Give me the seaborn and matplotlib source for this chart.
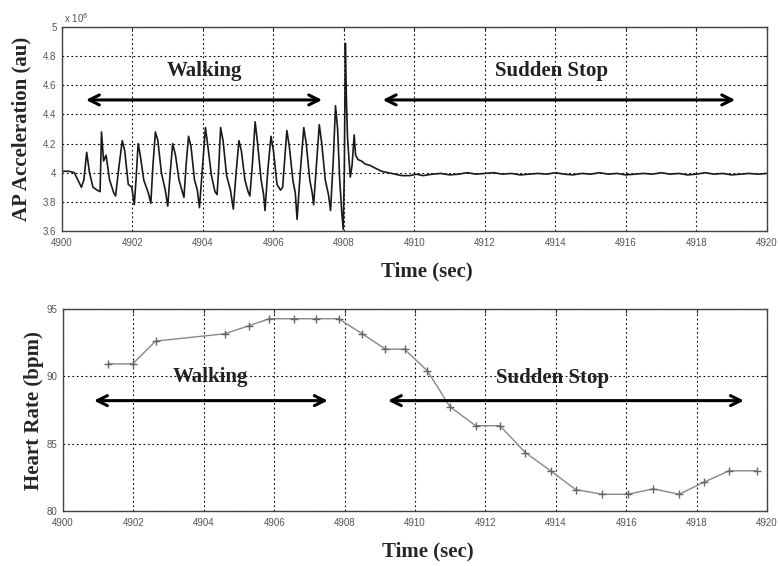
import numpy as np
import pandas as pd
import seaborn as sns
import matplotlib.pyplot as plt
from matplotlib.ticker import FormatStrFormatter

# AP acceleration (x 10^6 au)
ap_time = [
    4900.00, 4900.20, 4900.35, 4900.45, 4900.55, 4900.62, 4900.70, 4900.78, 4900.88, 4901.00,
    4901.08, 4901.12, 4901.18, 4901.25, 4901.35, 4901.47, 4901.52, 4901.62, 4901.71, 4901.78,
    4901.88, 4901.98, 4902.05, 4902.10, 4902.16, 4902.22, 4902.32, 4902.45, 4902.52, 4902.58,
    4902.65, 4902.72, 4902.82, 4902.93, 4903.00, 4903.07, 4903.14, 4903.22, 4903.32, 4903.40,
    4903.46, 4903.52, 4903.59, 4903.66, 4903.76, 4903.84, 4903.90, 4903.98, 4904.07, 4904.14,
    4904.24, 4904.34, 4904.40, 4904.45, 4904.50, 4904.57, 4904.67, 4904.78, 4904.86, 4904.94,
    4905.02, 4905.09, 4905.19, 4905.28, 4905.33, 4905.40, 4905.48, 4905.55, 4905.65, 4905.72,
    4905.76, 4905.84, 4905.93, 4906.00, 4906.10, 4906.20, 4906.26, 4906.32, 4906.38, 4906.45,
    4906.55, 4906.62, 4906.67, 4906.76, 4906.86, 4906.93, 4907.03, 4907.10, 4907.14, 4907.22,
    4907.30, 4907.37, 4907.47, 4907.56, 4907.62, 4907.70, 4907.76, 4907.82, 4907.88, 4907.94,
    4907.98, 4908.01, 4908.04, 4908.07, 4908.10, 4908.14, 4908.18, 4908.23, 4908.29, 4908.33,
    4908.40, 4908.50, 4908.60, 4908.74, 4908.90, 4909.07, 4909.25, 4909.45, 4909.65, 4909.87,
    4910.05, 4910.25, 4910.50, 4910.75, 4911.00, 4911.25, 4911.50, 4911.75, 4912.00, 4912.25,
    4912.50, 4912.75, 4913.00, 4913.25, 4913.50, 4913.75, 4914.00, 4914.25, 4914.50, 4914.75,
    4915.00, 4915.25, 4915.50, 4915.75, 4916.00, 4916.25, 4916.50, 4916.75, 4917.00, 4917.25,
    4917.50, 4917.75, 4918.00, 4918.25, 4918.50, 4918.75, 4919.00, 4919.25, 4919.50, 4919.75,
    4920.00,
]
ap_value = [
    4.01, 4.01, 4.00, 3.95, 3.90, 3.95, 4.14, 4.00, 3.90, 3.88,
    3.87, 4.28, 4.08, 4.12, 3.95, 3.86, 3.84, 4.05, 4.22, 4.15,
    3.92, 3.90, 3.78, 3.95, 4.20, 4.12, 3.95, 3.86, 3.79, 4.05,
    4.28, 4.22, 4.00, 3.88, 3.77, 4.00, 4.20, 4.12, 3.95, 3.88,
    3.83, 4.05, 4.25, 4.18, 3.95, 3.88, 3.76, 4.02, 4.31, 4.18,
    3.98, 3.87, 3.85, 4.05, 4.31, 4.22, 3.98, 3.88, 3.75, 4.00,
    4.22, 4.15, 3.95, 3.87, 3.84, 4.05, 4.35, 4.20, 3.95, 3.85,
    3.74, 4.02, 4.25, 4.15, 3.92, 3.88, 3.90, 4.10, 4.29, 4.18,
    3.95, 3.86, 3.68, 4.00, 4.31, 4.20, 3.95, 3.86, 3.78, 4.05,
    4.33, 4.20, 3.95, 3.85, 3.74, 4.10, 4.46, 4.30, 3.95, 3.72,
    3.61, 4.00, 4.89, 4.50, 4.25, 4.10, 3.97, 4.05, 4.26, 4.12,
    4.09, 4.08, 4.06, 4.05, 4.03, 4.01, 4.00, 3.99, 3.98, 3.98,
    3.99, 3.98, 3.99, 3.995, 3.985, 3.99, 4.00, 3.99, 3.995, 4.00,
    3.99, 3.995, 3.985, 3.99, 3.995, 3.99, 4.00, 3.99, 3.985, 3.995,
    3.99, 4.00, 3.99, 3.995, 3.985, 3.99, 3.995, 3.99, 4.00, 3.99,
    3.995, 3.985, 3.99, 4.00, 3.99, 3.995, 3.985, 3.99, 3.995, 3.99,
    3.995,
]

# Heart rate (bpm)
hr_time = [
    4901.28, 4901.98, 4902.63, 4904.59, 4905.28, 4905.86, 4906.55, 4907.20, 4907.83, 4908.50,
    4909.16, 4909.70, 4910.35, 4910.99, 4911.72, 4912.41, 4913.13, 4913.85, 4914.56, 4915.32,
    4916.04, 4916.77, 4917.50, 4918.21, 4918.92, 4919.70,
]
hr_value = [
    90.93, 90.93, 92.62, 93.16, 93.76, 94.28, 94.28, 94.28, 94.28, 93.16,
    92.02, 92.02, 90.41, 87.75, 86.34, 86.34, 84.35, 82.99, 81.60, 81.25,
    81.25, 81.65, 81.25, 82.15, 82.99, 82.99,
]

ap_df = pd.DataFrame({'time': ap_time, 'value': ap_value})
hr_df = pd.DataFrame({'time': hr_time, 'value': hr_value})

sns.set_style('white')
plt.rcParams['font.family'] = ['Liberation Serif', 'DejaVu Serif']

fig = plt.figure(figsize=(7.78, 5.66), dpi=100)
ax1 = fig.add_axes([0.0797, 0.592, 0.906, 0.360])
ax2 = fig.add_axes([0.0810, 0.097, 0.905, 0.357])


def style_axes(ax, yticks):
    ax.set_xlim(4900, 4920)
    ax.set_xticks(range(4900, 4921, 2))
    ax.set_yticks(yticks)
    ax.grid(True, color='black', linestyle=(0, (1.5, 2.5)), linewidth=0.8)
    ax.tick_params(direction='in', top=True, right=True, length=3,
                   labelsize=7, labelcolor='#555555')
    ax.tick_params(axis='x', pad=5)
    ax.tick_params(axis='y', pad=4)
    for lab in ax.get_xticklabels() + ax.get_yticklabels():
        lab.set_family('Liberation Sans')
    for sp in ax.spines.values():
        sp.set_color('#444444')
        sp.set_linewidth(1.0)
    ax.set_xlabel('Time (sec)', fontsize=15, fontweight='bold')
    ax.xaxis.set_label_coords(0.518, -0.15)


def double_arrow(ax, x0, x1, y):
    ax.annotate('', xy=(x1, y), xytext=(x0, y),
                arrowprops=dict(arrowstyle='<->', color='black', lw=2.2,
                                mutation_scale=18))


# top panel: AP acceleration
sns.lineplot(data=ap_df, x='time', y='value', ax=ax1, color='#1a1a1a',
             linewidth=1.2, estimator=None, sort=False)
ax1.set_ylim(3.6, 5.0)
style_axes(ax1, [3.6, 3.8, 4.0, 4.2, 4.4, 4.6, 4.8, 5.0])
ax1.yaxis.set_major_formatter(FormatStrFormatter('%g'))
ax1.set_ylabel('AP Acceleration (au)', fontsize=15, fontweight='bold', labelpad=8)
ax1.text(0.003, 1.012, r'x 10$^6$', transform=ax1.transAxes, fontsize=7,
         color='#555555', family='Liberation Sans', va='bottom')
double_arrow(ax1, 4900.6, 4907.46, 4.5)
double_arrow(ax1, 4909.02, 4919.18, 4.5)
ax1.text(4904.05, 4.7, 'Walking', ha='center', va='center', fontsize=15,
         fontweight='bold', color='#222222')
ax1.text(4913.9, 4.7, 'Sudden Stop', ha='center', va='center', fontsize=15,
         fontweight='bold', color='#222222')

# bottom panel: heart rate
sns.lineplot(data=hr_df, x='time', y='value', ax=ax2, color='#888888',
             linewidth=1.0, marker='+', markersize=6, markeredgewidth=1.0,
             markeredgecolor='#666666', estimator=None, sort=False)
ax2.set_ylim(80, 95)
style_axes(ax2, [80, 85, 90, 95])
ax2.set_ylabel('Heart Rate (bpm)', fontsize=15, fontweight='bold', labelpad=2)
double_arrow(ax2, 4900.8, 4907.6, 88.2)
double_arrow(ax2, 4909.15, 4919.42, 88.2)
ax2.text(4904.2, 89.95, 'Walking', ha='center', va='center', fontsize=15,
         fontweight='bold', color='#222222')
ax2.text(4913.9, 89.85, 'Sudden Stop', ha='center', va='center', fontsize=15,
         fontweight='bold', color='#222222')

fig.savefig('out.png', dpi=100)
